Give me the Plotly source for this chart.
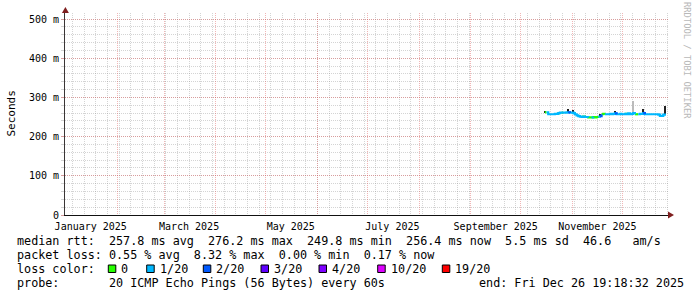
import plotly.graph_objects as go
import pandas as pd

# ---------------- data ----------------
graph_start = pd.Timestamp('2024-12-31 19:18:32')
graph_end = pd.Timestamp('2025-12-26 19:18:32')

days = pd.date_range('2025-10-15 12:00', '2025-12-26 12:00', freq='D')

median_ms = [
    262, 262, 257, 257, 257, 257, 258, 258, 260, 261, 261, 261, 261, 262, 262, 261, 261,
    260, 257, 254, 252, 251, 250, 251, 250, 250, 249, 249, 249, 250, 249, 250, 251, 252,
    257, 258, 257, 257, 257, 258, 257, 258, 259, 257, 257, 258, 257,
    257, 258, 257, 259, 257, 258, 260, 257, 257, 257, 258, 258, 260, 257, 257, 257, 257,
    257, 257, 257, 257, 256, 253, 253, 256, 259,
]
loss_level = [
    0, 1, 1, 1, 1, 1, 1, 0, 1, 1, 0, 1, 1, 1, 2, 1, 1,
    1, 1, 1, 1, 1, 0, 1, 0, 1, 0, 0, 1, 0, 0, 0, 1, 2,
    0, 0, 1, 1, 1, 1, 1, 1, 2, 1, 1, 1, 1,
    1, 0, 1, 1, 1, 1, 1, 0, 0, 1, 1, 1, 2, 1, 1, 1, 1,
    1, 1, 1, 1, 1, 1, 1, 1, 1,
]

smoke_days = ['2025-10-15 12:00', '2025-10-29 12:00', '2025-11-01 12:00', '2025-11-17 12:00',
              '2025-11-26 12:00', '2025-12-07 12:00', '2025-12-13 12:00', '2025-12-26 12:00']
smoke_top_ms = [264, 270, 267, 258, 266, 265, 270, 277]
light_smoke_days = ['2025-12-07 12:00']
light_smoke_top_ms = [292]

loss_colors = ['#26ff00', '#00b8ff', '#0059ff', '#5e00ff', '#7e00ff', '#dd00ff', '#ff0000']
loss_labels = ['0', '1/20', '2/20', '3/20', '4/20', '10/20', '19/20']

y_tick_vals = [0, 0.1, 0.2, 0.3, 0.4, 0.5]
y_tick_text = ['0', '100 m', '200 m', '300 m', '400 m', '500 m']
x_label_dates = ['2025-01-16', '2025-03-16', '2025-05-16', '2025-07-16', '2025-09-16', '2025-11-16']
x_label_text = ['January 2025', 'March 2025', 'May 2025', 'July 2025', 'September 2025', 'November 2025']

stats_rtt = 'median rtt:  257.8 ms avg  276.2 ms max  249.8 ms min  256.4 ms now  5.5 ms sd  46.6   am/s'
stats_loss = 'packet loss: 0.55 % avg  8.32 % max  0.00 % min  0.17 % now'
probe_text = 'probe:       20 ICMP Echo Pings (56 Bytes) every 60s'
end_text = 'end: Fri Dec 26 19:18:32 2025'
credit_text = 'RRDTOOL / TOBI OETIKER'

# ---------------- figure ----------------
MONO = 'DejaVu Sans Mono'
W, H = 697, 297
ML, MR, MT, MB = 65, 28, 13, 82
PW, PH = W - ML - MR, H - MT - MB
PX_PER_DAY = 600 / 360.0
LEG_SIZE = 11.75


def px_x(px):
    return (px - ML) / PW


def px_y(py):
    return (H - MB - py) / PH


def nb(s):
    return s.replace(' ', '\u00a0')


x_range = [graph_start - pd.Timedelta(days=(65.4 - ML) / PX_PER_DAY),
           graph_start + pd.Timedelta(days=(W - MR - 65.4) / PX_PER_DAY)]

fig = go.Figure()

med_s = [v / 1000 for v in median_ms]
day_index = {d: i for i, d in enumerate(days)}

# smoke (ping spread)
s_dates = pd.to_datetime(smoke_days)
s_base = [med_s[day_index[d]] - 0.001 for d in s_dates]
fig.add_trace(go.Bar(x=s_dates, y=[t / 1000 - b for t, b in zip(smoke_top_ms, s_base)], base=s_base,
                     width=0.75 * 86400000, marker=dict(color='#222222', line=dict(width=0)),
                     showlegend=False, hoverinfo='skip'))
l_dates = pd.to_datetime(light_smoke_days)
l_base = [med_s[day_index[d]] for d in l_dates]
fig.add_trace(go.Bar(x=l_dates, y=[t / 1000 - b for t, b in zip(light_smoke_top_ms, l_base)], base=l_base,
                     width=0.6 * 86400000, marker=dict(color='#bbbbbb', line=dict(width=0)),
                     showlegend=False, hoverinfo='skip'))

# median line coloured by loss
for lvl, col in enumerate(loss_colors):
    ys = []
    for i, v in enumerate(med_s):
        if loss_level[i] == lvl or (i > 0 and loss_level[i - 1] == lvl):
            ys.append(v)
        else:
            ys.append(None)
    if all(y is None for y in ys):
        continue
    fig.add_trace(go.Scatter(x=days, y=ys, mode='lines', line=dict(color=col, width=2.2, shape='hv'),
                             connectgaps=False, showlegend=False, hoverinfo='skip'))

# invisible trace for label axis
fig.add_trace(go.Scatter(x=[graph_start], y=[None], xaxis='x2', showlegend=False, hoverinfo='skip'))

grid_major = 'rgba(222,80,80,0.42)'
grid_minor = 'rgba(143,143,143,0.38)'

fig.update_layout(
    width=W, height=H,
    margin=dict(l=ML, r=MR, t=MT, b=MB, pad=0),
    paper_bgcolor='white', plot_bgcolor='white',
    barmode='overlay', bargap=0,
    font=dict(family=MONO, size=10, color='black'),
    xaxis=dict(type='date', range=x_range,
               tickmode='array', tickvals=pd.date_range('2025-01-01', '2025-12-01', freq='MS'),
               showticklabels=False, ticks='',
               showgrid=True, gridcolor=grid_major, griddash='1px,1px', gridwidth=1,
               minor=dict(tick0='2025-01-05', dtick=7 * 86400000, showgrid=True,
                          gridcolor=grid_minor, griddash='1px,1px', gridwidth=1),
               showline=True, linecolor='#111111', linewidth=1, zeroline=False, fixedrange=True),
    xaxis2=dict(type='date', overlaying='x', matches='x', side='bottom', anchor='y',
                tickmode='array', tickvals=x_label_dates, ticktext=x_label_text,
                showgrid=False, showline=False, ticks='', zeroline=False, ticklabelstandoff=4,
                tickfont=dict(family=MONO, size=10, color='black')),
    yaxis=dict(range=[0, (215 - 13) / (196 / 0.5)],
               tickmode='array', tickvals=y_tick_vals, ticktext=y_tick_text,
               ticks='outside', ticklen=3, tickcolor=grid_major,
               showgrid=True, gridcolor=grid_major, griddash='1px,1px', gridwidth=1,
               minor=dict(dtick=0.02, showgrid=True, gridcolor=grid_minor, griddash='1px,1px',
                          ticks='outside', ticklen=3, tickcolor=grid_minor),
               showline=True, linecolor='#3a3636', linewidth=1, zeroline=False,
               tickfont=dict(family=MONO, size=10, color='black')),
)

annos = []
rows = [(stats_rtt, 241), (stats_loss, 255), ('loss color:', 268.5), (probe_text, 282.5)]
for txt, py in rows:
    annos.append(dict(text=nb(txt), x=px_x(16), y=px_y(py), xref='paper', yref='paper',
                      xanchor='left', yanchor='middle', showarrow=False, borderpad=0,
                      font=dict(family=MONO, size=LEG_SIZE, color='black')))
annos.append(dict(text=nb(end_text), x=px_x(478), y=px_y(282.5), xref='paper', yref='paper',
                  xanchor='left', yanchor='middle', showarrow=False, borderpad=0,
                  font=dict(family=MONO, size=LEG_SIZE, color='black')))
annos.append(dict(text='Seconds', x=px_x(11), y=px_y(113.5), xref='paper', yref='paper',
                  textangle=-90, showarrow=False, xanchor='center', yanchor='middle',
                  font=dict(family=MONO, size=11, color='black')))
annos.append(dict(text=nb(credit_text), x=px_x(687), y=px_y(60), xref='paper', yref='paper',
                  textangle=90, showarrow=False, xanchor='center', yanchor='middle',
                  font=dict(family=MONO, size=8.8, color='#b8b8b8')))

shapes = []
box_left = [108.3, 146.7, 203.3, 261, 319, 377.7, 442.3]
for bx, col, lab in zip(box_left, loss_colors, loss_labels):
    shapes.append(dict(type='rect', xref='paper', yref='paper',
                       x0=px_x(bx), x1=px_x(bx + 7.5), y0=px_y(272.5), y1=px_y(265),
                       fillcolor=col, line=dict(color='black', width=1)))
    annos.append(dict(text=nb(lab), x=px_x(bx + 11.8), y=px_y(268.5), xref='paper', yref='paper',
                      xanchor='left', yanchor='middle', showarrow=False, borderpad=0,
                      font=dict(family=MONO, size=LEG_SIZE, color='black')))

# axis arrows
ax_x = px_x(65.4)
shapes.append(dict(type='path', xref='paper', yref='paper', fillcolor='#7f1f1f', line=dict(width=0),
                   path=f'M {ax_x - 3.5 / PW},{px_y(13)} L {ax_x + 3.5 / PW},{px_y(13)} L {ax_x},{px_y(7)} Z'))
shapes.append(dict(type='path', xref='paper', yref='paper', fillcolor='#7f1f1f', line=dict(width=0),
                   path=f'M {px_x(668)},{px_y(211.5)} L {px_x(668)},{px_y(218.5)} L {px_x(674)},{px_y(215)} Z'))

fig.update_layout(annotations=annos, shapes=shapes)

fig.write_html('out.html')
